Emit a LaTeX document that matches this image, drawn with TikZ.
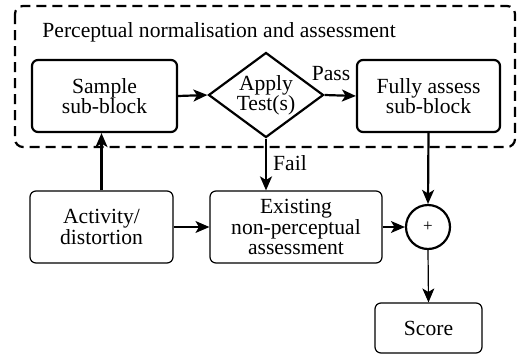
\documentclass[tikz,border=0pt]{standalone}
\usepackage{fontspec}
\setmainfont{Liberation Serif}
\usetikzlibrary{shapes.geometric,arrows.meta}
\begin{document}
\begin{tikzpicture}[x=0.5pt,y=-0.5pt,
  font=\rmfamily\fontsize{10.8}{10.1}\selectfont,
  thickbox/.style={draw,line width=1.1pt,rounded corners=3pt,align=center,inner sep=0pt},
  thinbox/.style={draw,line width=0.6pt,rounded corners=3pt,align=center,inner sep=0pt},
  thickarr/.style={line width=1.1pt,-{Stealth[length=7pt,width=6pt,inset=1.8pt]}},
  thinarr/.style={line width=0.6pt,-{Stealth[length=7pt,width=6pt,inset=1.8pt]}},
  lbl/.style={inner sep=0pt,anchor=base}]
\useasboundingbox (0,0) rectangle (519,354);
\draw[line width=1.1pt,dash pattern=on 5pt off 3pt,rounded corners=4pt] (15,6) rectangle (515,147);
\node[lbl,anchor=base west] (title) at (42,37) {Perceptual normalisation and assessment};
\node[thickbox,minimum width=72.5pt,minimum height=36pt] (sample) at (104.5,96) {Sample\\sub-block};
\node[draw,line width=1.1pt,diamond,aspect=1.35,inner sep=0pt,minimum width=57.5pt,minimum height=42.5pt,align=center] (test) at (266,95) {Apply\\Test(s)};
\node[thickbox,minimum width=71.5pt,minimum height=36pt] (fully) at (428.5,96) {Fully assess\\sub-block};
\node[thinbox,minimum width=71.5pt,minimum height=36pt] (act) at (101.5,227) {Activity/\\distortion};
\node[thinbox,minimum width=86pt,minimum height=36pt] (exist) at (296,227) {Existing\\non-perceptual\\assessment};
\node[draw,circle,line width=1.1pt,minimum size=22pt,inner sep=0pt,font=\rmfamily\fontsize{8.5}{8.5}\selectfont] (sum) at (428,227) {+};
\node[thinbox,minimum width=53.5pt,minimum height=25pt] (score) at (428.5,328) {Score};
\draw[thickarr] (sample.east) -- (test.west);
\draw[thickarr] (test.east) -- (fully.west);
\node[lbl] (pass) at (331,80) {Pass};
\draw[thickarr] (test.south) -- (test.south |- exist.north);
\node[lbl] (fail) at (290,170) {Fail};
\draw[thickarr] (act.north) -- (act.north |- sample.south);
\draw[thickarr] (fully.south) -- (sum.north);
\draw[thinarr] (act.east) -- (exist.west);
\draw[thinarr] (exist.east) -- (sum.west);
\draw[thinarr] (sum.south) -- (score.north);
\end{tikzpicture}
\end{document}
